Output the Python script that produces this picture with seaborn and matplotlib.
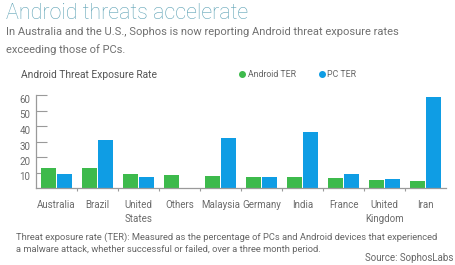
import matplotlib
matplotlib.use("Agg")
import matplotlib.pyplot as plt
import matplotlib.transforms as mtransforms
from matplotlib.lines import Line2D
import seaborn as sns
import pandas as pd

countries = ["Australia", "Brazil", "United\nStates", "Others", "Malaysia",
             "Germany", "India", "France", "United\nKingdom", "Iran"]
android_ter = [13, 12.7, 8.8, 8.4, 8.0, 7.3, 7.0, 6.5, 5.2, 4.7]
pc_ter = [9.0, 31.0, 7.0, 0, 32.0, 6.9, 36.0, 8.8, 5.8, 58.5]
series = ["Android TER", "PC TER"]
yticks = [10, 20, 30, 40, 50, 60]

GREEN = "#3dba4c"
BLUE = "#0f9de4"
GRAY = "#6b6b6b"

sns.set_theme(style="white")
plt.rcParams["font.family"] = ["Roboto", "DejaVu Sans"]

df = pd.DataFrame({
    "Country": countries * 2,
    "Rate": android_ter + pc_ter,
    "Series": [series[0]] * len(countries) + [series[1]] * len(countries),
})

fig = plt.figure(figsize=(4.55, 2.65), dpi=100)
ax = fig.add_axes([36 / 455, (265 - 188) / 265, (446 - 36) / 455, 93 / 265])

sns.barplot(data=df, x="Country", y="Rate", hue="Series", order=countries,
            hue_order=series, palette={series[0]: GREEN, series[1]: BLUE},
            width=0.8, gap=0.06, saturation=1, legend=False, ax=ax,
            linewidth=0)

ax.set_xlim(-0.5, len(countries) - 0.5)
ax.set_ylim(0, 60)
ax.set_xlabel("")
ax.set_ylabel("")
for s in ["top", "right"]:
    ax.spines[s].set_visible(False)
for s in ["left", "bottom"]:
    ax.spines[s].set_color("#9a9a9a")
    ax.spines[s].set_linewidth(0.9)

ax.set_yticks(yticks)
ax.set_yticklabels([str(t) for t in yticks])
ax.tick_params(axis="y", direction="in", length=8, width=0.8, color="#9a9a9a",
               labelsize=7, labelcolor=GRAY, pad=4, left=True)
offset = mtransforms.ScaledTranslation(0, -4 / 100, fig.dpi_scale_trans)
for lab in ax.get_yticklabels():
    lab.set_transform(lab.get_transform() + offset)

ax.set_xticks(range(len(countries)))
ax.set_xticklabels(countries, linespacing=1.5)
ax.tick_params(axis="x", length=0, labelsize=7, labelcolor=GRAY, pad=9)
ax.set_xticks([i + 0.5 for i in range(len(countries) - 1)], minor=True)
ax.tick_params(axis="x", which="minor", direction="out", length=2, width=0.8,
               color="#9a9a9a", bottom=True)
for lab in ax.get_xticklabels():
    lab.set_verticalalignment("top")

fig.text(6 / 455, 1 - 19 / 265, "Android threats accelerate", fontsize=15.5,
         fontweight="light", color="#5fa3b6", va="baseline", ha="left")
fig.text(6 / 455, 1 - 32 / 265,
         "In Australia and the U.S., Sophos is now reporting Android threat exposure rates",
         fontsize=8.0, color="#707070", va="center", ha="left")
fig.text(6 / 455, 1 - 50 / 265, "exceeding those of PCs.",
         fontsize=8.0, color="#707070", va="center", ha="left")

fig.text(21 / 455, 1 - 75 / 265, "Android Threat Exposure Rate", fontsize=7.4,
         color="#555555", va="center", ha="left")

handles = [Line2D([], [], marker="o", linestyle="", markersize=4,
                  markerfacecolor=c, markeredgecolor=c) for c in (GREEN, BLUE)]
leg = fig.legend(handles, series, loc="center left",
                 bbox_to_anchor=(238 / 455, 1 - 75 / 265), ncol=2, frameon=False,
                 fontsize=6.3, handletextpad=0.1, columnspacing=2.5,
                 handlelength=1.0, borderaxespad=0, borderpad=0)
for t in leg.get_texts():
    t.set_color("#666666")

fig.text(16 / 455, 1 - 237 / 265,
         "Threat exposure rate (TER): Measured as the percentage of PCs and Android devices that experienced",
         fontsize=6.75, color="#666666", va="center", ha="left")
fig.text(16 / 455, 1 - 249 / 265,
         "a malware attack, whether successful or failed, over a three month period.",
         fontsize=6.75, color="#666666", va="center", ha="left")
fig.text(453 / 455, 1 - 258 / 265, "Source: SophosLabs", fontsize=7.0,
         color="#666666", va="center", ha="right")

fig.savefig("out.png", dpi=100)
